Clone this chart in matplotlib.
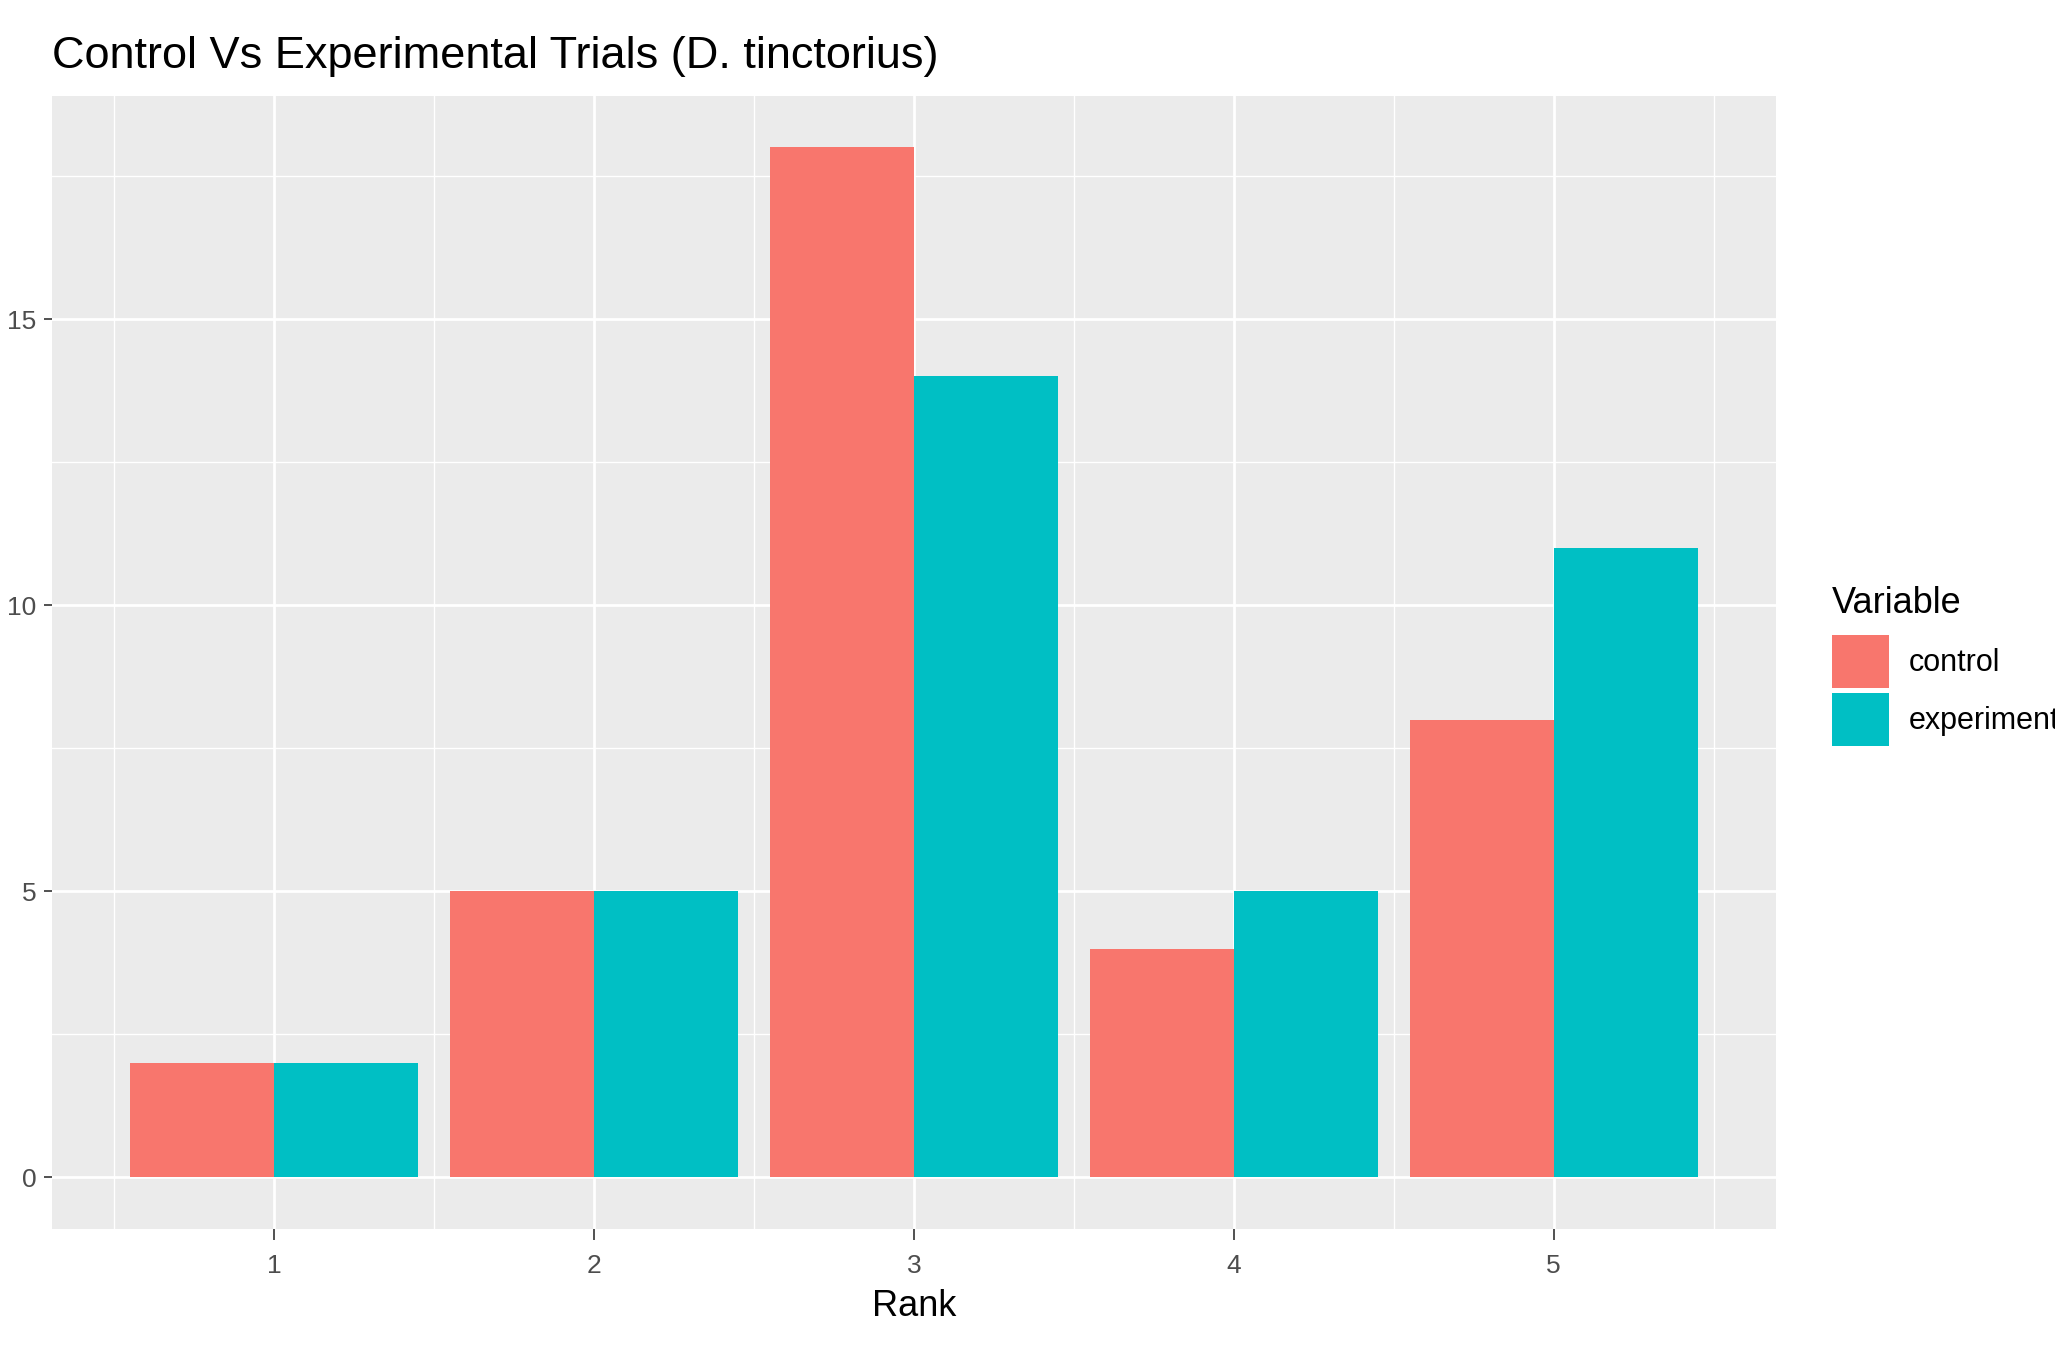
import matplotlib.pyplot as plt
import numpy as np
from matplotlib.ticker import MultipleLocator

plt.rcParams['font.family'] = ['Liberation Sans', 'DejaVu Sans']

# data
ranks = [1, 2, 3, 4, 5]
control = [2, 5, 18, 4, 8]
experimental = [2, 5, 14, 5, 11]
series_names = ["control", "experimental"]

red = '#F8766D'
teal = '#00BFC4'

fig = plt.figure(figsize=(20.55, 13.46), dpi=100)
ax = fig.add_axes([0.0253, 0.087, 0.8389, 0.8417])
ax.set_facecolor('#EBEBEB')

x = np.array(ranks, dtype=float)
w = 0.45
ax.bar(x - w / 2, control, width=w, color=red, label=series_names[0], zorder=3)
ax.bar(x + w / 2, experimental, width=w, color=teal, label=series_names[1], zorder=3)

# ggplot-like limits (5% expansion)
ax.set_xlim(0.305, 5.695)
ax.set_ylim(-0.9, 18.9)

ax.xaxis.set_major_locator(MultipleLocator(1))
ax.xaxis.set_minor_locator(MultipleLocator(0.5))
ax.yaxis.set_major_locator(MultipleLocator(5))
ax.yaxis.set_minor_locator(MultipleLocator(2.5))
ax.set_xticks(ranks)
ax.set_yticks([0, 5, 10, 15])

ax.grid(which='major', color='white', linewidth=2.0, zorder=0)
ax.grid(which='minor', color='white', linewidth=1.0, zorder=0)
ax.set_axisbelow(True)

for s in ax.spines.values():
    s.set_visible(False)

ax.tick_params(which='major', length=6, width=1.2, color='#333333',
               labelcolor='#4D4D4D', labelsize=19, pad=5)
ax.tick_params(axis='x', which='major', length=8, pad=10)
ax.tick_params(which='minor', length=0)

ax.set_xlabel("Rank", fontsize=26, color='black', labelpad=8)

fig.text(0.0253, 1 - 68 / 1346, "Control Vs Experimental Trials (D. tinctorius)",
         fontsize=32.5, ha='left', va='baseline', color='black')

leg = fig.legend(loc='upper left', bbox_to_anchor=(0.8915, 0.5646),
                 frameon=False, fontsize=22, title="Variable", title_fontsize=26,
                 handlelength=1.85, handleheight=2.3, labelspacing=0.17,
                 handletextpad=0.65, borderpad=0, borderaxespad=0)
leg._legend_box.align = 'left'
leg._legend_box.sep = 10  # extra room between legend title and keys

fig.savefig("out.png", dpi=100)
